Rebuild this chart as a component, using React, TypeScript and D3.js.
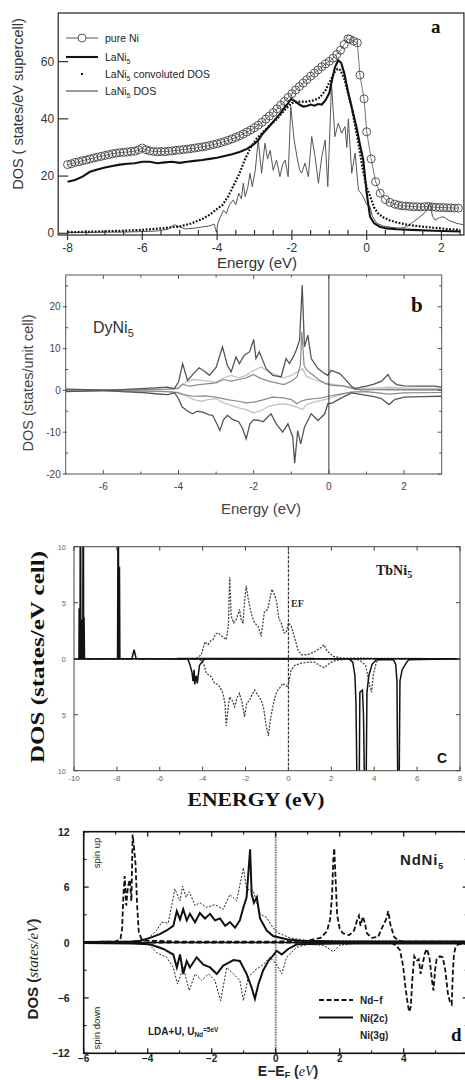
import React from "react";
import * as d3 from "d3";

type Pt = [number, number];

// ================= Panel a : LaNi5 =================
const aPureNi: Pt[] = [
  [-8.0, 24.0], [-7.9, 24.3], [-7.8, 24.8], [-7.7, 25.0], [-7.6, 25.4], [-7.5, 25.6], [-7.4, 26.0], [-7.3, 26.3],
  [-7.2, 26.6], [-7.1, 26.9], [-7.0, 27.2], [-6.9, 27.5], [-6.8, 27.8], [-6.7, 28.0], [-6.6, 28.2], [-6.5, 28.3],
  [-6.4, 28.4], [-6.3, 28.6], [-6.2, 28.7], [-6.1, 29.2], [-6.0, 29.8], [-5.9, 29.2], [-5.8, 28.8], [-5.7, 28.6],
  [-5.6, 28.5], [-5.5, 28.6], [-5.4, 28.5], [-5.3, 28.7], [-5.2, 28.8], [-5.1, 29.0], [-5.0, 29.1], [-4.9, 29.3],
  [-4.8, 29.4], [-4.7, 29.6], [-4.6, 29.8], [-4.5, 30.0], [-4.4, 30.2], [-4.3, 30.4], [-4.2, 30.7], [-4.1, 31.0],
  [-4.0, 31.3], [-3.9, 31.7], [-3.8, 32.1], [-3.7, 32.5], [-3.6, 33.0], [-3.5, 33.5], [-3.4, 34.1], [-3.3, 34.7],
  [-3.2, 35.4], [-3.1, 36.1], [-3.0, 36.9], [-2.9, 37.8], [-2.8, 38.8], [-2.7, 39.9], [-2.6, 41.0], [-2.5, 42.2],
  [-2.4, 43.5], [-2.3, 44.8], [-2.2, 46.1], [-2.1, 47.5], [-2.0, 48.8], [-1.9, 50.1], [-1.8, 51.3], [-1.7, 52.5],
  [-1.6, 53.7], [-1.5, 54.9], [-1.4, 56.0], [-1.3, 57.1], [-1.2, 58.2], [-1.1, 59.2], [-1.0, 60.1], [-0.9, 61.2],
  [-0.8, 62.5], [-0.7, 64.0], [-0.6, 66.0], [-0.5, 68.0], [-0.45, 67.8], [-0.35, 67.2], [-0.25, 66.6], [-0.18, 55.3],
  [-0.07, 47.0], [0.0, 35.5], [0.12, 26.0], [0.24, 18.0], [0.36, 14.0], [0.5, 11.8], [0.62, 10.8], [0.75, 10.2],
  [0.85, 9.8], [0.95, 9.6], [1.05, 9.5], [1.15, 9.4], [1.25, 9.3], [1.35, 9.3], [1.45, 9.2], [1.55, 9.3],
  [1.65, 9.4], [1.75, 9.2], [1.85, 9.1], [1.95, 9.0], [2.05, 9.0], [2.15, 8.9], [2.25, 8.9], [2.35, 8.8], [2.45, 8.8],
];
const aLaNi5: Pt[] = [
  [-8, 18], [-7.8, 18.6], [-7.6, 19.8], [-7.4, 21.5], [-7.2, 22.3], [-7.0, 23], [-6.8, 23.5], [-6.6, 24],
  [-6.4, 24.3], [-6.2, 24.5], [-6.0, 25], [-5.8, 25], [-5.6, 24.5], [-5.4, 24.8], [-5.2, 25], [-5.0, 24.6],
  [-4.8, 25], [-4.6, 25.3], [-4.4, 25.6], [-4.2, 26], [-4.0, 26.4], [-3.8, 27], [-3.6, 27.6], [-3.4, 28.4],
  [-3.2, 29.5], [-3.03, 31], [-2.9, 32.5], [-2.8, 34.5], [-2.7, 36], [-2.6, 37.5], [-2.5, 39], [-2.4, 40.5],
  [-2.3, 42], [-2.2, 43.8], [-2.1, 45.5], [-2.02, 47], [-1.9, 46], [-1.8, 45], [-1.7, 44.3], [-1.6, 44.5],
  [-1.5, 45], [-1.4, 44.6], [-1.3, 45.2], [-1.2, 45], [-1.1, 46.5], [-1.0, 49], [-0.92, 54], [-0.85, 58],
  [-0.76, 60.5], [-0.68, 59.5], [-0.6, 56], [-0.49, 49], [-0.4, 44], [-0.27, 37], [-0.18, 31], [-0.09, 25.6],
  [0, 14], [0.09, 5.8], [0.2, 3.5], [0.35, 2.3], [0.53, 1.7], [0.8, 1.4], [1.2, 1.2], [1.8, 0.9], [2.5, 0.6],
];
const aConvoluted: Pt[] = [
  [-8, 0.4], [-7.5, 0.5], [-7, 0.7], [-6.5, 0.9], [-6, 1.2], [-5.5, 1.7], [-5, 2.4], [-4.7, 3.4], [-4.4, 5],
  [-4.2, 6.5], [-4, 8.5], [-3.85, 10], [-3.7, 13], [-3.55, 17], [-3.4, 21], [-3.25, 26], [-3.1, 30], [-2.95, 33],
  [-2.8, 35], [-2.6, 37.5], [-2.4, 40], [-2.2, 43], [-2.0, 45.5], [-1.8, 46], [-1.6, 46], [-1.4, 46.5],
  [-1.25, 47.5], [-1.1, 50], [-0.95, 54], [-0.85, 56.5], [-0.78, 57.5], [-0.7, 57], [-0.6, 54], [-0.5, 49],
  [-0.4, 44], [-0.3, 37], [-0.2, 30], [-0.1, 22], [0, 16], [0.09, 13], [0.2, 9], [0.3, 7], [0.45, 5.5],
  [0.6, 4.6], [0.8, 3.8], [1.0, 3.2], [1.25, 2.7], [1.5, 2.3], [1.75, 2.0], [2.0, 1.7], [2.25, 1.4], [2.5, 1.2],
];
const aLaNi5Dos: Pt[] = [
  [-8, 0.3], [-7.5, 0.3], [-7, 0.4], [-6.5, 0.4], [-6, 0.6], [-5.6, 0.8], [-5.3, 1.5], [-5.15, 3.0], [-5.0, 2.2],
  [-4.85, 1.5], [-4.6, 1.8], [-4.4, 2.2], [-4.2, 2.6], [-4.08, 3.2], [-4.02, 0.5], [-3.97, 4], [-3.9, 6],
  [-3.83, 8], [-3.75, 7], [-3.67, 10], [-3.57, 11.6], [-3.5, 10], [-3.42, 14], [-3.35, 12], [-3.3, 17.5],
  [-3.25, 12.8], [-3.18, 16], [-3.12, 21], [-3.06, 16.3], [-2.98, 22], [-2.9, 32.6], [-2.81, 21], [-2.72, 31.5],
  [-2.65, 26], [-2.58, 29], [-2.5, 22], [-2.41, 25.6], [-2.32, 19.8], [-2.25, 24], [-2.18, 25.6], [-2.1, 19.8],
  [-2.03, 44.3], [-1.94, 32.6], [-1.85, 25.6], [-1.79, 22], [-1.74, 21], [-1.65, 24.5], [-1.56, 19.8],
  [-1.47, 33.8], [-1.38, 26.8], [-1.29, 17.5], [-1.2, 26.8], [-1.11, 32.6], [-1.04, 16.3], [-0.94, 52],
  [-0.85, 33.8], [-0.76, 38.5], [-0.67, 35], [-0.58, 37.3], [-0.53, 30], [-0.49, 40], [-0.4, 21], [-0.31, 28],
  [-0.22, 15], [-0.15, 14], [-0.09, 12.8], [0.0, 10], [0.09, 9.3], [0.15, 6], [0.27, 3.5], [0.45, 2.5],
  [0.7, 2], [0.9, 1.8], [1.07, 2.3], [1.25, 4], [1.43, 5.8], [1.58, 7.5], [1.69, 10.5], [1.76, 6], [1.83, 4.6],
  [1.95, 5.5], [2.05, 5.8], [2.2, 4.5], [2.4, 3.5], [2.58, 3],
];
const aXTicks = [-8, -6, -4, -2, 0, 2];
const aYTicks = [0, 20, 40, 60];

// ================= Panel b : DyNi5 =================
const bTotalUp: Pt[] = [
  [-7, -0.3], [-6.5, -0.2], [-6, 0], [-5.5, 0.2], [-5, 0.4], [-4.6, 0.6], [-4.3, 0.8], [-4.11, 0.4], [-4.0, 2],
  [-3.89, 6.4], [-3.76, 2.4], [-3.6, 4], [-3.45, 5.4], [-3.3, 4.5], [-3.18, 3.6], [-3.0, 5.5], [-2.83, 10.4],
  [-2.7, 6], [-2.6, 4.4], [-2.47, 8], [-2.38, 6.4], [-2.25, 8.4], [-2.11, 9.2], [-2.0, 12.2], [-1.94, 7.6],
  [-1.85, 9.2], [-1.75, 7], [-1.67, 5.2], [-1.49, 3.6], [-1.27, 3.2], [-1.14, 7.6], [-1.05, 6.4], [-0.95, 8],
  [-0.87, 9.6], [-0.78, 12], [-0.71, 25.2], [-0.65, 10.4], [-0.56, 13.2], [-0.47, 7.6], [-0.29, 5.2],
  [-0.11, 4], [-0.03, 3.6], [0.06, 4.8], [0.15, 4.5], [0.29, 4], [0.46, 2.4], [0.6, 1], [0.7, 0.3], [0.85, 0.8],
  [1.0, 1], [1.2, 1.5], [1.4, 2.2], [1.57, 3.8], [1.65, 2.5], [1.8, 1.4], [2.0, 1.1], [2.4, 1], [2.8, 1], [3, 0.8],
];
const bTotalDown: Pt[] = [
  [-7, 0.3], [-6.5, 0.2], [-6, 0], [-5.5, -0.3], [-5, -0.5], [-4.6, -0.8], [-4.3, -1], [-4.1, -0.6], [-4.0, -2],
  [-3.9, -4], [-3.75, -5], [-3.63, -5.6], [-3.5, -5], [-3.36, -5.2], [-3.2, -5.8], [-3.09, -6], [-2.98, -8],
  [-2.9, -9.6], [-2.8, -7], [-2.7, -6], [-2.55, -7], [-2.4, -7.5], [-2.3, -9], [-2.2, -11.6], [-2.1, -8],
  [-2.0, -7], [-1.85, -7.2], [-1.75, -7.5], [-1.64, -6.5], [-1.54, -5.6], [-1.4, -8], [-1.23, -10], [-1.09, -8],
  [-0.96, -11.2], [-0.91, -17.4], [-0.83, -9.6], [-0.75, -12.8], [-0.65, -8.8], [-0.47, -5.6], [-0.29, -7.2],
  [-0.11, -5.6], [-0.03, -3.2], [0.1, -3], [0.25, -2.2], [0.4, -1.5], [0.6, -0.6], [0.8, -0.9], [1.0, -1.2],
  [1.2, -1.5], [1.4, -2], [1.6, -3.4], [1.75, -2.2], [2.0, -1.6], [2.5, -1.5], [3, -1.4],
];
const bMidUp: Pt[] = [
  [-7, 0.1], [-5, 0.1], [-4.3, 0.3], [-4.0, 0.5], [-3.9, 1.5], [-3.7, 1.0], [-3.5, 1.3], [-3.2, 1.6], [-3.0, 1.8],
  [-2.8, 2.6], [-2.6, 2.2], [-2.4, 2.6], [-2.2, 3.0], [-2.0, 3.8], [-1.85, 3.0], [-1.6, 2.2], [-1.4, 1.8],
  [-1.2, 1.4], [-1.0, 2.2], [-0.85, 3.2], [-0.76, 6], [-0.72, 14], [-0.66, 6], [-0.6, 5], [-0.5, 4.2],
  [-0.3, 2.8], [-0.1, 1.6], [0.1, 1.2], [0.4, 1.0], [0.7, 0.3], [1.0, 0.2], [1.6, 0.3], [2.2, 0.2], [3, 0.2],
];
const bLightUp: Pt[] = [
  [-7, 0.2], [-5, 0.2], [-4.2, 0.3], [-4.0, 0.6], [-3.8, 2.0], [-3.6, 2.6], [-3.4, 2.4], [-3.2, 2.2], [-3.0, 2.0],
  [-2.8, 3.0], [-2.6, 3.6], [-2.4, 3.0], [-2.2, 3.6], [-2.0, 4.8], [-1.8, 5.6], [-1.6, 4.4], [-1.4, 3.8],
  [-1.2, 3.0], [-1.0, 3.6], [-0.8, 4.6], [-0.7, 5.2], [-0.6, 3.4], [-0.4, 2.6], [-0.2, 2.0], [0.0, 1.6],
  [0.3, 1.2], [0.6, 0.7], [1.0, 0.5], [1.6, 0.8], [2.2, 0.5], [3, 0.5],
];
const bMidDown: Pt[] = [
  [-7, -0.1], [-5, -0.1], [-4.3, -0.3], [-4.0, -0.6], [-3.9, -1.0], [-3.6, -1.4], [-3.3, -1.3], [-3.0, -1.6],
  [-2.7, -2.2], [-2.4, -2.6], [-2.2, -3.0], [-2.0, -2.8], [-1.8, -2.4], [-1.5, -1.6], [-1.2, -1.8], [-1.0, -2.2],
  [-0.85, -3.2], [-0.75, -2.6], [-0.6, -2.2], [-0.4, -2.0], [-0.2, -1.8], [0.0, -1.4], [0.3, -0.9], [0.6, -0.4],
  [1.0, -0.3], [1.6, -0.9], [2.0, -0.6], [3, -0.5],
];
const bLightDown: Pt[] = [
  [-7, -0.2], [-5, -0.2], [-4.2, -0.3], [-4.0, -0.5], [-3.8, -1.2], [-3.6, -2.2], [-3.4, -2.6], [-3.2, -2.2],
  [-3.0, -2.0], [-2.8, -3.0], [-2.6, -3.6], [-2.4, -4.2], [-2.2, -4.6], [-2.0, -5.4], [-1.8, -4.8], [-1.6, -3.8],
  [-1.4, -3.4], [-1.2, -3.2], [-1.0, -3.6], [-0.8, -4.2], [-0.7, -4.6], [-0.6, -3.4], [-0.4, -2.8], [-0.2, -2.4],
  [0.0, -2.0], [0.3, -1.0], [0.6, -0.4], [1.0, 0.2], [1.6, 0.0], [2.2, 0.0], [3, 0.0],
];
const bXTicks = [-6, -4, -2, 0, 2];
const bYTicks = [-20, -10, 0, 10, 20];

// ================= Panel c : TbNi5 =================
const cTbUp: Pt[] = [
  [-10, 0], [-9.77, 0], [-9.76, 4.5], [-9.75, 0], [-9.72, 0], [-9.71, 12], [-9.69, 12], [-9.68, 0], [-9.64, 0],
  [-9.63, 3.5], [-9.62, 0], [-9.59, 0], [-9.58, 12], [-9.56, 12], [-9.55, 0], [-9.53, 3.7], [-9.51, 0],
  [-7.97, 0], [-7.95, 12], [-7.93, 12], [-7.91, 0], [-7.88, 8.2], [-7.86, 0], [-7.3, 0], [-7.2, 0.8], [-7.1, 0], [8, 0],
];
const cTbDown: Pt[] = [
  [-10, 0], [-4.7, 0], [-4.6, -0.5], [-4.5, -1.2], [-4.45, -2.0], [-4.4, -1.0], [-4.37, -2.3], [-4.3, -1.5],
  [-4.25, -2.2], [-4.15, -0.6], [-4.0, -0.2], [-3.9, 0], [2.8, 0], [3.0, -0.3], [3.1, -1.5], [3.15, -4],
  [3.2, -12], [3.3, -12], [3.33, -3], [3.45, -2.8], [3.5, -5], [3.55, -12], [3.62, -12], [3.66, -3], [3.75, -1.5],
  [3.9, -0.5], [4.1, -0.1], [4.9, -0.1], [5.0, -0.5], [5.06, -2], [5.1, -12], [5.16, -12], [5.2, -2], [5.3, -1],
  [5.45, -0.5], [5.6, -0.1], [8, 0],
];
const cDosUp: Pt[] = [
  [-10, 0], [-4.3, 0], [-4.06, 0.36], [-3.9, 1.5], [-3.75, 1.25], [-3.62, 1.6], [-3.52, 1.7], [-3.4, 2.2],
  [-3.28, 2.3], [-3.1, 2.0], [-2.9, 1.7], [-2.8, 3], [-2.74, 7.3], [-2.67, 3.8], [-2.55, 3.2], [-2.43, 3.5],
  [-2.35, 4], [-2.28, 4.4], [-2.2, 3.4], [-2.12, 3.2], [-2.05, 5], [-1.97, 6.5], [-1.89, 5.5], [-1.81, 4.7],
  [-1.7, 3.8], [-1.58, 3.2], [-1.42, 2.9], [-1.27, 2.0], [-1.12, 4.2], [-0.96, 4.4], [-0.85, 5.5], [-0.77, 6.2],
  [-0.67, 5.8], [-0.57, 5.3], [-0.45, 3.6], [-0.34, 3.2], [-0.2, 2.3], [-0.11, 2.3], [0.0, 3.2], [0.13, 2.9],
  [0.3, 1.8], [0.44, 0.8], [0.6, 0.35], [0.9, 0.36], [1.2, 0.6], [1.52, 1.0], [1.66, 1.25], [1.8, 0.7],
  [2.1, 0.2], [2.5, 0.05], [8, 0],
];
const cDosDown: Pt[] = [
  [-10, 0], [-4.2, 0], [-4.0, -0.3], [-3.91, -0.7], [-3.83, -1.3], [-3.6, -1.6], [-3.44, -2.2], [-3.3, -2.3],
  [-3.21, -2.5], [-3.05, -3.1], [-2.96, -4], [-2.9, -6], [-2.82, -4.5], [-2.74, -3.4], [-2.6, -3.8], [-2.51, -4.3],
  [-2.4, -3.5], [-2.28, -3.1], [-2.15, -4], [-2.05, -5.2], [-1.95, -4], [-1.81, -3.7], [-1.7, -3.2], [-1.58, -2.8],
  [-1.45, -3.2], [-1.27, -3.7], [-1.15, -4.5], [-1.04, -6], [-0.93, -6.9], [-0.85, -5.5], [-0.73, -4.3],
  [-0.6, -3.2], [-0.49, -2.8], [-0.36, -2.5], [-0.26, -2.2], [-0.15, -2.4], [-0.03, -2.5], [0.13, -1.0],
  [0.3, -0.6], [0.59, -0.4], [1.0, -0.3], [1.21, -0.3], [1.45, -0.6], [1.66, -0.8], [1.85, -0.5], [2.1, -0.2],
  [2.6, -0.05], [3.3, -0.1], [3.6, -0.6], [3.8, -2.5], [3.88, -3], [3.95, -1.5], [4.1, -0.3], [4.3, 0], [8, 0],
];
const cXTicks = [-10, -8, -6, -4, -2, 0, 2, 4, 6, 8];
const cYTicks = [-10, -5, 0, 5, 10];

// ================= Panel d : NdNi5 =================
const dNdfUp: Pt[] = [
  [-6, 0.05], [-5.0, 0.1], [-4.85, 0.4], [-4.8, 1.5], [-4.76, 5], [-4.72, 7.2], [-4.67, 4], [-4.62, 6],
  [-4.56, 6.8], [-4.51, 4.5], [-4.47, 11.7], [-4.42, 10], [-4.38, 8.5], [-4.33, 4], [-4.28, 1.2], [-4.2, 0.4],
  [-4.0, 0.2], [-3.0, 0.1], [-1.0, 0.1], [0.0, 0.1], [1.0, 0.2], [1.4, 0.5], [1.6, 1.2], [1.7, 2.5], [1.76, 5],
  [1.8, 9], [1.83, 10.2], [1.87, 7], [1.92, 3], [2.0, 1.5], [2.1, 1.0], [2.3, 0.8], [2.45, 1.3], [2.55, 2.5],
  [2.6, 2.9], [2.65, 1.8], [2.72, 2.8], [2.78, 2.2], [2.85, 1.0], [3.0, 0.5], [3.2, 0.6], [3.35, 1.8],
  [3.45, 2.5], [3.52, 3.4], [3.58, 2], [3.7, 0.6], [3.85, 0.2], [4.0, 0.1], [6, 0.1],
];
const dNdfDown: Pt[] = [
  [-6, 0], [3.6, 0], [3.75, -0.3], [3.88, -0.8], [3.98, -2.5], [4.06, -5], [4.12, -6.5], [4.17, -7.5],
  [4.22, -7], [4.27, -4], [4.33, -1.5], [4.4, -2], [4.47, -1.8], [4.53, -3.4], [4.6, -2.2], [4.66, -1.2],
  [4.72, -0.7], [4.8, -1.5], [4.88, -4], [4.93, -5.2], [4.98, -3], [5.03, -1.8], [5.13, -1.5], [5.22, -1.6],
  [5.3, -3], [5.38, -5.5], [5.45, -6.5], [5.5, -6.7], [5.54, -3], [5.57, -1.3], [5.62, -0.5], [5.7, -0.2], [6, -0.1],
];
const dNi2cUp: Pt[] = [
  [-6, 0.05], [-4.5, 0.1], [-4.24, 0.2], [-3.93, 0.5], [-3.62, 0.9], [-3.41, 1.3], [-3.2, 1.8], [-3.09, 3.4],
  [-2.99, 2.5], [-2.89, 3.6], [-2.78, 2.4], [-2.68, 3.1], [-2.52, 2.2], [-2.37, 3.2], [-2.21, 2.6], [-2.05, 3.1],
  [-1.9, 2.4], [-1.74, 2.6], [-1.58, 1.8], [-1.43, 2.2], [-1.27, 1.6], [-1.12, 2.4], [-1.01, 3.8], [-0.91, 4.9],
  [-0.8, 10.1], [-0.75, 5.2], [-0.68, 4.3], [-0.59, 4.9], [-0.49, 2.6], [-0.28, 1.3], [-0.08, 0.7], [0.34, 0.35],
  [0.76, 0.2], [2, 0.1], [6, 0.1],
];
const dNi2cDown: Pt[] = [
  [-6, -0.05], [-4.5, -0.1], [-3.93, -0.2], [-3.51, -0.7], [-3.2, -1.3], [-3.09, -2.7], [-2.99, -1.3],
  [-2.89, -3.4], [-2.78, -2.0], [-2.68, -2.7], [-2.47, -1.6], [-2.26, -2.4], [-2.05, -2.7], [-1.84, -3.4],
  [-1.64, -2.5], [-1.48, -2.2], [-1.32, -1.9], [-1.12, -2.0], [-0.91, -3.4], [-0.75, -4.9], [-0.65, -6.1],
  [-0.54, -4.5], [-0.39, -3.0], [-0.23, -2.0], [-0.08, -1.4], [0.03, -0.9], [0.19, -1.3], [0.39, -0.7],
  [0.66, -0.2], [2, -0.1], [6, -0.1],
];
const dNi3gUp: Pt[] = [
  [-6, 0.05], [-4.3, 0.15], [-4.03, 0.3], [-3.72, 1.3], [-3.56, 2.2], [-3.36, 2.1], [-3.15, 5.8], [-2.99, 4.5],
  [-2.91, 6.1], [-2.8, 4.9], [-2.7, 5.5], [-2.52, 4.0], [-2.37, 4.3], [-2.16, 3.8], [-1.9, 4.1], [-1.64, 3.6],
  [-1.43, 5.2], [-1.22, 4.5], [-1.01, 8.1], [-0.91, 5.8], [-0.7, 5.6], [-0.49, 3.1], [-0.28, 2.7], [-0.18, 2.1],
  [0.03, 1.1], [0.45, 0.5], [1.0, 0.2], [6, 0.1],
];
const dNi3gDown: Pt[] = [
  [-6, -0.05], [-4.3, -0.1], [-3.93, -0.3], [-3.72, -1.1], [-3.41, -1.6], [-3.2, -2.7], [-3.07, -4.5],
  [-2.89, -2.7], [-2.7, -5.2], [-2.52, -3.4], [-2.31, -4.1], [-2.1, -3.4], [-1.9, -4.1], [-1.72, -6.3],
  [-1.53, -2.7], [-1.32, -3.4], [-1.12, -4.1], [-1.01, -6.3], [-0.86, -3.8], [-0.65, -3.0], [-0.39, -2.4],
  [-0.18, -1.6], [0.03, -2.4], [0.19, -3.4], [0.34, -1.6], [0.66, -0.5], [1.0, -0.2], [1.5, -0.3], [1.8, -1.0],
  [2.0, -0.3], [2.5, -0.1], [6, -0.1],
];
const dXTicks = [-6, -4, -2, 0, 2, 4];
const dYTicks = [-12, -6, 0, 6, 12];

const SANS = "'Liberation Sans', Arial, Helvetica, sans-serif";
const SERIF = "'Liberation Serif', 'Times New Roman', serif";

function mkLine(x: d3.ScaleLinear<number, number>, y: d3.ScaleLinear<number, number>) {
  return d3.line<Pt>().x((d) => x(d[0])).y((d) => y(d[1]));
}

function PanelA() {
  const x = d3.scaleLinear().domain([-8.25, 2.6]).range([58.2, 463.9]);
  const y = d3.scaleLinear().domain([-0.6, 77]).range([235, 13]);
  const line = mkLine(x, y);
  const [x0, x1] = x.range();
  const [yb, yt] = y.range();
  const minor = d3.range(-8, 2.51, 0.5);
  return (
    <g>
      <defs>
        <clipPath id="clipA"><rect x={x0} y={yt} width={x1 - x0} height={yb - yt} /></clipPath>
      </defs>
      <g clipPath="url(#clipA)">
        <path d={line(aLaNi5Dos)!} fill="none" stroke="#555" strokeWidth={1} />
        <path d={line(aPureNi)!} fill="none" stroke="#555" strokeWidth={0.8} />
        {aPureNi.map((d, i) => (
          <circle key={i} cx={x(d[0])} cy={y(d[1])} r={4} fill="none" stroke="#444" strokeWidth={0.9} />
        ))}
        <path d={line(aConvoluted)!} fill="none" stroke="#111" strokeWidth={2.2} strokeDasharray="1.8 1.6" />
        <path d={line(aLaNi5)!} fill="none" stroke="#111" strokeWidth={2.1} />
      </g>
      <rect x={x0} y={yt} width={x1 - x0} height={yb - yt} fill="none" stroke="#333" strokeWidth={1.3} />
      {minor.map((v) => (
        <line key={v} x1={x(v)} x2={x(v)} y1={yb - 5} y2={aXTicks.includes(v) ? yb + 5 : yb} stroke="#333" strokeWidth={1.2} />
      ))}
      {aXTicks.map((v) => (
        <text key={v} x={x(v)} y={yb + 17} fontSize={12} fontFamily={SANS} textAnchor="middle" fill="#333">{v}</text>
      ))}
      {aYTicks.map((v) => (
        <g key={v}>
          <line x1={x0} x2={x0 + 10} y1={y(v)} y2={y(v)} stroke="#333" strokeWidth={1.2} />
          <text x={x0 - 4} y={y(v) + 4} fontSize={12} fontFamily={SANS} textAnchor="end" fill="#333">{v}</text>
        </g>
      ))}
      <text x={257} y={268} fontSize={15} fontFamily={SANS} textAnchor="middle" fill="#333">Energy (eV)</text>
      <text transform="translate(23,104) rotate(-90)" fontSize={14.5} fontFamily={SANS} textAnchor="middle" fill="#333">DOS ( states/eV supercell)</text>
      <text x={431} y={33} fontSize={19} fontWeight="bold" fontFamily={SERIF} fill="#111">a</text>
      {/* legend */}
      <g fontFamily={SANS} fontSize={10.5} fill="#222">
        <line x1={66} x2={98} y1={38} y2={38} stroke="#444" strokeWidth={0.9} />
        <circle cx={82} cy={38} r={4} fill="#fff" stroke="#444" strokeWidth={0.9} />
        <text x={105} y={42}>pure Ni</text>
        <line x1={66} x2={98} y1={57} y2={57} stroke="#111" strokeWidth={2.1} />
        <text x={105} y={61}>LaNi<tspan fontSize={7} dy={3}>5</tspan></text>
        <rect x={81} y={73} width={2} height={2} fill="#111" />
        <text x={105} y={78}>LaNi<tspan fontSize={7} dy={3}>5</tspan><tspan dy={-3}> convoluted DOS</tspan></text>
        <line x1={66} x2={98} y1={91} y2={91} stroke="#333" strokeWidth={1} />
        <text x={105} y={95}>LaNi<tspan fontSize={7} dy={3}>5</tspan><tspan dy={-3}> DOS</tspan></text>
      </g>
    </g>
  );
}

function PanelB() {
  const x = d3.scaleLinear().domain([-7, 3]).range([65.7, 441.7]);
  const y = d3.scaleLinear().domain([-20, 27.6]).range([474, 275]);
  const line = mkLine(x, y);
  const [x0, x1] = x.range();
  const [yb, yt] = y.range();
  const xMinor = [-5, -3, -1, 1];
  const yMinor = [-15, -5, 5, 15, 25];
  const tk = "#555";
  return (
    <g>
      <defs>
        <clipPath id="clipB"><rect x={x0} y={yt} width={x1 - x0} height={yb - yt} /></clipPath>
      </defs>
      <g clipPath="url(#clipB)" fill="none">
        <path d={line(bLightUp)!} stroke="#c4c4c4" strokeWidth={1.3} />
        <path d={line(bLightDown)!} stroke="#c4c4c4" strokeWidth={1.3} />
        <path d={line(bMidUp)!} stroke="#8a8a8a" strokeWidth={1.2} />
        <path d={line(bMidDown)!} stroke="#8a8a8a" strokeWidth={1.2} />
        <path d={line(bTotalUp)!} stroke="#555" strokeWidth={1.3} />
        <path d={line(bTotalDown)!} stroke="#555" strokeWidth={1.3} />
      </g>
      <line x1={x(0)} x2={x(0)} y1={yt} y2={yb} stroke="#333" strokeWidth={1} />
      <rect x={x0} y={yt} width={x1 - x0} height={yb - yt} fill="none" stroke={tk} strokeWidth={1} />
      {bXTicks.map((v) => (
        <g key={v}>
          <line x1={x(v)} x2={x(v)} y1={yb} y2={yb - 4} stroke={tk} />
          <line x1={x(v)} x2={x(v)} y1={yt} y2={yt + 4} stroke={tk} />
          <text x={x(v)} y={yb + 16} fontSize={10} fontFamily={SANS} textAnchor="middle" fill="#444">{v}</text>
        </g>
      ))}
      {xMinor.map((v) => (
        <g key={v}>
          <line x1={x(v)} x2={x(v)} y1={yb} y2={yb - 2.5} stroke={tk} />
          <line x1={x(v)} x2={x(v)} y1={yt} y2={yt + 2.5} stroke={tk} />
        </g>
      ))}
      {bYTicks.map((v) => (
        <g key={v}>
          <line x1={x0 - 3} x2={x0 + 1} y1={y(v)} y2={y(v)} stroke={tk} />
          <line x1={x1} x2={x1 - 4} y1={y(v)} y2={y(v)} stroke={tk} />
          <text x={x0 - 5} y={y(v) + 3.5} fontSize={10} fontFamily={SANS} textAnchor="end" fill="#444">{v}</text>
        </g>
      ))}
      {yMinor.map((v) => (
        <g key={v}>
          <line x1={x0} x2={x0 + 2.5} y1={y(v)} y2={y(v)} stroke={tk} />
          <line x1={x1} x2={x1 - 2.5} y1={y(v)} y2={y(v)} stroke={tk} />
        </g>
      ))}
      <text x={261} y={514} fontSize={15} fontFamily={SANS} textAnchor="middle" fill="#444">Energy (eV)</text>
      <text transform="translate(33,383) rotate(-90)" fontSize={14.5} fontFamily={SANS} textAnchor="middle" fill="#444">DOS (states/unit cell)</text>
      <text x={93} y={333} fontSize={16} fontFamily={SANS} fill="#333">DyNi<tspan fontSize={11} dy={4}>5</tspan></text>
      <text x={411} y={312} fontSize={21} fontWeight="bold" fontFamily={SERIF} fill="#111">b</text>
    </g>
  );
}

function PanelC() {
  const x = d3.scaleLinear().domain([-10, 8]).range([74, 460]);
  const y = d3.scaleLinear().domain([-10, 10]).range([770.7, 546.7]);
  const line = mkLine(x, y);
  const [x0, x1] = x.range();
  const [yb, yt] = y.range();
  const tk = "#444";
  return (
    <g>
      <defs>
        <clipPath id="clipC"><rect x={x0} y={yt} width={x1 - x0} height={yb - yt} /></clipPath>
      </defs>
      <g clipPath="url(#clipC)" fill="none">
        <path d={line(cDosUp)!} stroke="#444" strokeWidth={1.3} strokeDasharray="2 1.4" />
        <path d={line(cDosDown)!} stroke="#444" strokeWidth={1.3} strokeDasharray="2 1.4" />
        <line x1={x0} x2={x1} y1={y(0)} y2={y(0)} stroke="#222" strokeWidth={1.4} strokeDasharray="7 2 2 2" />
        <line x1={x(-5.2)} x2={x(1.2)} y1={y(0)} y2={y(0)} stroke="#111" strokeWidth={1.8} />
        <path d={line(cTbUp)!} stroke="#111" strokeWidth={1.5} />
        <path d={line(cTbDown)!} stroke="#111" strokeWidth={1.5} />
      </g>
      <line x1={x(0)} x2={x(0)} y1={yt} y2={yb} stroke="#333" strokeWidth={1.2} strokeDasharray="3 1.5" />
      <rect x={x0} y={yt} width={x1 - x0} height={yb - yt} fill="none" stroke={tk} strokeWidth={1} />
      {cXTicks.map((v) => (
        <g key={v}>
          <line x1={x(v)} x2={x(v)} y1={yb} y2={yb - 4} stroke={tk} />
          <line x1={x(v)} x2={x(v)} y1={yt} y2={yt + 4} stroke={tk} />
          <text x={x(v)} y={yb + 10} fontSize={8} fontFamily={SANS} textAnchor="middle" fill="#666">{v}</text>
        </g>
      ))}
      {cYTicks.map((v) => (
        <g key={v}>
          <line x1={x0} x2={x0 + 4} y1={y(v)} y2={y(v)} stroke={tk} />
          <line x1={x1} x2={x1 - 4} y1={y(v)} y2={y(v)} stroke={tk} />
          <text x={x0 - 8} y={y(v) + 3} fontSize={7.5} fontFamily={SANS} textAnchor="end" fill="#666">{Math.abs(v)}</text>
        </g>
      ))}
      <text x={256} y={806} fontSize={19} fontWeight="bold" fontFamily={SERIF} textAnchor="middle" fill="#111" textLength={137} lengthAdjust="spacingAndGlyphs">ENERGY (eV)</text>
      <text transform="translate(44,657) rotate(-90)" fontSize={19} fontWeight="bold" fontFamily={SERIF} textAnchor="middle" fill="#111" textLength={212} lengthAdjust="spacingAndGlyphs">DOS (states/eV cell)</text>
      <text x={376} y={575} fontSize={14} fontWeight="bold" fontFamily={SERIF} fill="#222">TbNi<tspan fontSize={10} dy={3}>5</tspan></text>
      <text x={291} y={607} fontSize={10} fontWeight="bold" fontFamily={SERIF} fill="#333">EF</text>
      <text x={437} y={763} fontSize={14} fontWeight="bold" fontFamily={SANS} fill="#111">C</text>
    </g>
  );
}

function PanelD() {
  const x = d3.scaleLinear().domain([-6, 6]).range([83.7, 467.7]);
  const y = d3.scaleLinear().domain([-12, 12]).range([1053.3, 831.7]);
  const line = mkLine(x, y);
  const [x0, x1] = x.range();
  const [yb, yt] = y.range();
  const xMinor = [-5, -3, -1, 1, 3, 5];
  const yMinor = [-9, -3, 3, 9];
  const fmt = (v: number) => (v < 0 ? "\u2212" + Math.abs(v) : String(v));
  return (
    <g>
      <defs>
        <clipPath id="clipD"><rect x={x0} y={yt} width={x1 - x0} height={yb - yt} /></clipPath>
      </defs>
      <g clipPath="url(#clipD)" fill="none">
        <line x1={x(0)} x2={x(0)} y1={yt} y2={yb} stroke="#777" strokeWidth={2} strokeDasharray="1.5 1" />
        <line x1={x0} x2={x1} y1={y(0)} y2={y(0)} stroke="#111" strokeWidth={1.6} />
        <path d={line(dNi3gUp)!} stroke="#222" strokeWidth={1} strokeDasharray="2 1.6" />
        <path d={line(dNi3gDown)!} stroke="#222" strokeWidth={1} strokeDasharray="2 1.6" />
        <path d={line(dNi2cUp)!} stroke="#111" strokeWidth={2} />
        <path d={line(dNi2cDown)!} stroke="#111" strokeWidth={2} />
        <path d={line(dNdfUp)!} stroke="#111" strokeWidth={1.8} strokeDasharray="5 2.5" />
        <path d={line(dNdfDown)!} stroke="#111" strokeWidth={1.8} strokeDasharray="5 2.5" />
      </g>
      <rect x={x0} y={yt} width={x1 - x0} height={yb - yt} fill="none" stroke="#111" strokeWidth={1.6} />
      {dXTicks.map((v) => (
        <g key={v}>
          <line x1={x(v)} x2={x(v)} y1={yb} y2={yb - 5} stroke="#111" strokeWidth={1.2} />
          <line x1={x(v)} x2={x(v)} y1={yt} y2={yt + 5} stroke="#111" strokeWidth={1.2} />
          <text x={x(v)} y={yb + 9} fontSize={10} fontWeight="bold" fontFamily={SANS} textAnchor="middle" fill="#222">{fmt(v)}</text>
        </g>
      ))}
      {xMinor.map((v) => (
        <g key={v}>
          <line x1={x(v)} x2={x(v)} y1={yb} y2={yb - 3} stroke="#111" />
          <line x1={x(v)} x2={x(v)} y1={yt} y2={yt + 3} stroke="#111" />
        </g>
      ))}
      {dYTicks.map((v) => (
        <g key={v}>
          <line x1={x0} x2={x0 + 5} y1={y(v)} y2={y(v)} stroke="#111" strokeWidth={1.2} />
          <line x1={x1} x2={x1 - 5} y1={y(v)} y2={y(v)} stroke="#111" strokeWidth={1.2} />
          <text x={x0 - 14} y={y(v) + 4} fontSize={10.5} fontWeight="bold" fontFamily={SANS} textAnchor="end" fill="#222">{fmt(v)}</text>
        </g>
      ))}
      {yMinor.map((v) => (
        <g key={v}>
          <line x1={x0} x2={x0 + 3} y1={y(v)} y2={y(v)} stroke="#111" />
          <line x1={x1} x2={x1 - 3} y1={y(v)} y2={y(v)} stroke="#111" />
        </g>
      ))}
      <text x={400} y={865} fontSize={15} fontWeight="bold" fontFamily={SANS} fill="#222" letterSpacing={0.8}>NdNi<tspan fontSize={9} dy={4}>5</tspan></text>
      <text transform="translate(100,853) rotate(-90)" fontSize={9.5} fontFamily={SANS} textAnchor="middle" fill="#222">spin up</text>
      <text transform="translate(100,1028) rotate(-90)" fontSize={9.5} fontFamily={SANS} textAnchor="middle" fill="#222">spin down</text>
      <text x={148} y={1035} fontSize={10} fontWeight="bold" fontFamily={SANS} fill="#222">LDA+U, U<tspan fontSize={6.5} dy={2}>Nd</tspan><tspan fontSize={6.5} dy={-5}>=5eV</tspan></text>
      <g fontFamily={SANS} fontSize={10} fontWeight="bold" fill="#222">
        <line x1={319} x2={353} y1={1000} y2={1000} stroke="#111" strokeWidth={1.8} strokeDasharray="5 2.5" />
        <text x={360} y={1004}>Nd{"\u2212"}f</text>
        <line x1={319} x2={353} y1={1017.5} y2={1017.5} stroke="#111" strokeWidth={2} />
        <text x={360} y={1021.5}>Ni(2c)</text>
        <text x={360} y={1039}>Ni(3g)</text>
      </g>
      <text x={451} y={1041} fontSize={19} fontWeight="bold" fontFamily={SERIF} fill="#111">d</text>
      <text transform="translate(38,969) rotate(-90)" fontSize={15} fontWeight="bold" fontFamily={SANS} textAnchor="middle" fill="#222">
        DOS (<tspan fontFamily={SERIF} fontStyle="italic" fontWeight="normal">states/eV</tspan>)
      </text>
      <text x={288} y={1075.5} fontSize={14} fontWeight="bold" fontFamily={SANS} textAnchor="middle" fill="#222">
        E{"\u2212"}E<tspan fontSize={9} dy={2}>F</tspan><tspan dy={-2}> (</tspan><tspan fontFamily={SERIF} fontStyle="italic" fontWeight="normal">eV</tspan>)
      </text>
    </g>
  );
}

export default function App() {
  return (
    <svg width={465} height={1080} viewBox="0 0 465 1080" style={{ position: "absolute", left: 0, top: 0, background: "#fff" }}>
      <rect x={0} y={0} width={465} height={1080} fill="#fff" />
      <PanelA />
      <PanelB />
      <PanelC />
      <PanelD />
    </svg>
  );
}
